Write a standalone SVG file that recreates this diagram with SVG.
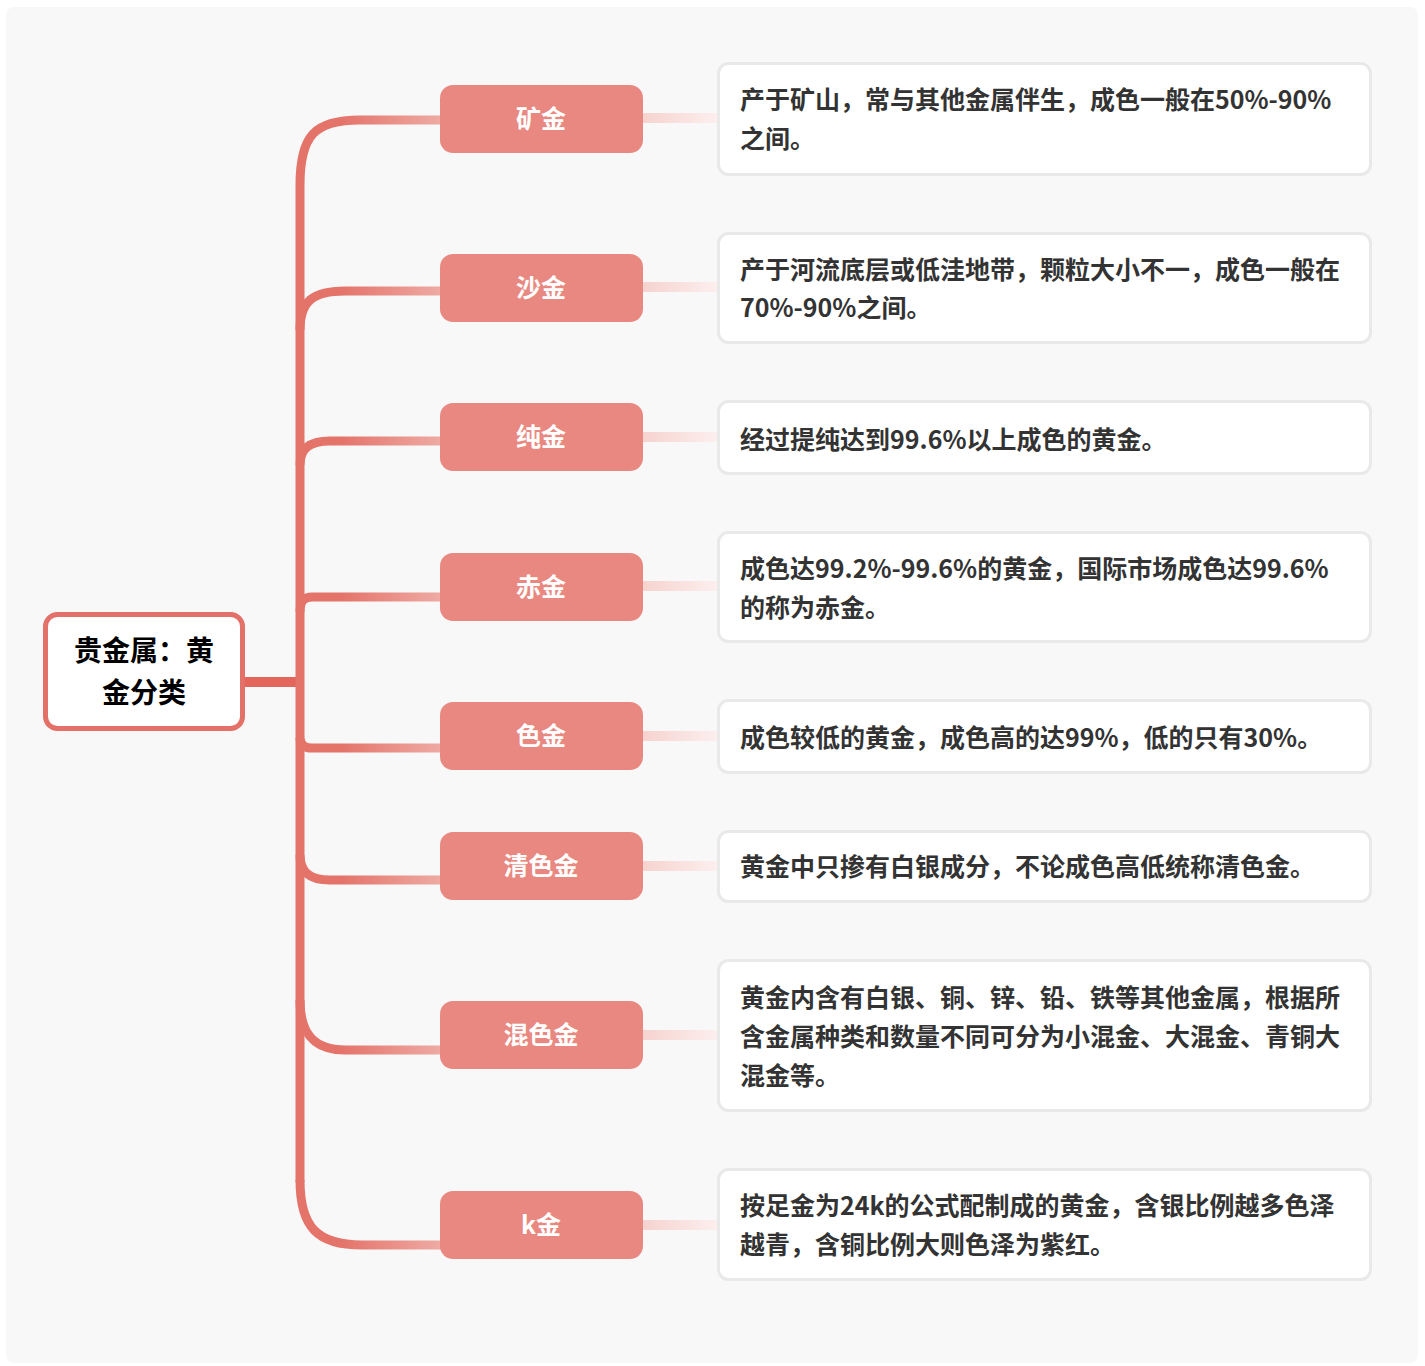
<svg xmlns="http://www.w3.org/2000/svg" width="1425" height="1366" viewBox="0 0 1425 1366">
<defs>
<linearGradient id="gBr" gradientUnits="userSpaceOnUse" x1="340" y1="0" x2="440" y2="0">
<stop offset="0" stop-color="#e4736a"/><stop offset="1" stop-color="#eeaaa3"/>
</linearGradient>
<linearGradient id="gLf" gradientUnits="userSpaceOnUse" x1="643" y1="0" x2="718" y2="0">
<stop offset="0" stop-color="#f6d3cf"/><stop offset="1" stop-color="#fcefee"/>
</linearGradient>
<style>
.br{fill:none;stroke:url(#gBr);stroke-width:9}
.lf{fill:none;stroke:url(#gLf);stroke-width:10}
.b1{fill:#e98880}
.t1{font-family:"Noto Sans CJK SC","Noto Sans",sans-serif;font-weight:bold;font-size:25px;fill:#ffffff;text-anchor:middle}
.d{fill:#ffffff;stroke:#e9e9e9;stroke-width:3}
.td{font-family:"Noto Sans CJK SC","Noto Sans",sans-serif;font-weight:bold;font-size:25px;fill:#333333}
.tr{font-family:"Noto Sans CJK SC","Noto Sans",sans-serif;font-weight:bold;font-size:28px;fill:#000000;text-anchor:middle}
</style>
</defs>
<rect x="6" y="7" width="1412" height="1356" rx="8" fill="#f8f8f8"/>
<g id="connectors">
<path d="M244,682 H300" fill="none" stroke="#e3655c" stroke-width="10"/>
<path d="M300,185 V1182" fill="none" stroke="#e4736a" stroke-width="9"/>
<path class="br" d="M300,185 C300,135 315,120 360,120 H441"/>
<path class="br" d="M300,330 C300,302 312,291 345,291 H441"/>
<path class="br" d="M300,465 C300,448 310,441 330,441 H441"/>
<path class="br" d="M300,612 C300,601 304,597 312,597 H441"/>
<path class="br" d="M300,738 C300,744 304,748 312,748 H441"/>
<path class="br" d="M300,855 C300,872 310,880 330,880 H441"/>
<path class="br" d="M300,1000 C300,1035 315,1050 345,1050 H441"/>
<path class="br" d="M300,1180 C300,1228 318,1245 362,1245 H441"/>
<path class="lf" d="M642,118 H719"/>
<path class="lf" d="M642,287 H719"/>
<path class="lf" d="M642,437 H719"/>
<path class="lf" d="M642,586 H719"/>
<path class="lf" d="M642,736 H719"/>
<path class="lf" d="M642,866 H719"/>
<path class="lf" d="M642,1035 H719"/>
<path class="lf" d="M642,1225 H719"/>
</g>
<g id="root">
<rect x="45.5" y="614.5" width="197" height="114" rx="12" fill="#ffffff" stroke="#e4706a" stroke-width="5"/>
<text class="tr" x="144" y="661">贵金属：黄</text>
<text class="tr" x="144" y="703">金分类</text>
</g>
<g id="n1"><rect class="b1" x="440" y="85" width="203" height="68" rx="13"/><text class="t1" x="541" y="128">矿金</text></g>
<g id="n2"><rect class="b1" x="440" y="254" width="203" height="68" rx="13"/><text class="t1" x="541" y="297">沙金</text></g>
<g id="n3"><rect class="b1" x="440" y="403" width="203" height="68" rx="13"/><text class="t1" x="541" y="446">纯金</text></g>
<g id="n4"><rect class="b1" x="440" y="553" width="203" height="68" rx="13"/><text class="t1" x="541" y="596">赤金</text></g>
<g id="n5"><rect class="b1" x="440" y="702" width="203" height="68" rx="13"/><text class="t1" x="541" y="745">色金</text></g>
<g id="n6"><rect class="b1" x="440" y="832" width="203" height="68" rx="13"/><text class="t1" x="541" y="875">清色金</text></g>
<g id="n7"><rect class="b1" x="440" y="1001" width="203" height="68" rx="13"/><text class="t1" x="541" y="1044">混色金</text></g>
<g id="n8"><rect class="b1" x="440" y="1191" width="203" height="68" rx="13"/><text class="t1" x="541" y="1234">k金</text></g>
<g id="d1"><rect class="d" x="718.5" y="63.5" width="652" height="111" rx="10"/>
<text class="td" x="740" y="109">产于矿山，常与其他金属伴生，成色一般在50%-90%</text>
<text class="td" x="740" y="148">之间。</text></g>
<g id="d2"><rect class="d" x="718.5" y="233.5" width="652" height="109" rx="10"/>
<text class="td" x="740" y="279">产于河流底层或低洼地带，颗粒大小不一，成色一般在</text>
<text class="td" x="740" y="317">70%-90%之间。</text></g>
<g id="d3"><rect class="d" x="718.5" y="401.5" width="652" height="72" rx="10"/>
<text class="td" x="740" y="449">经过提纯达到99.6%以上成色的黄金。</text></g>
<g id="d4"><rect class="d" x="718.5" y="532.5" width="652" height="109" rx="10"/>
<text class="td" x="740" y="578">成色达99.2%-99.6%的黄金，国际市场成色达99.6%</text>
<text class="td" x="740" y="617">的称为赤金。</text></g>
<g id="d5"><rect class="d" x="718.5" y="700.5" width="652" height="72" rx="10"/>
<text class="td" x="740" y="747">成色较低的黄金，成色高的达99%，低的只有30%。</text></g>
<g id="d6"><rect class="d" x="718.5" y="831.5" width="652" height="70" rx="10"/>
<text class="td" x="740" y="876">黄金中只掺有白银成分，不论成色高低统称清色金。</text></g>
<g id="d7"><rect class="d" x="718.5" y="960.5" width="652" height="150" rx="10"/>
<text class="td" x="740" y="1007">黄金内含有白银、铜、锌、铅、铁等其他金属，根据所</text>
<text class="td" x="740" y="1046">含金属种类和数量不同可分为小混金、大混金、青铜大</text>
<text class="td" x="740" y="1085">混金等。</text></g>
<g id="d8"><rect class="d" x="718.5" y="1169.5" width="652" height="110" rx="10"/>
<text class="td" x="740" y="1215">按足金为24k的公式配制成的黄金，含银比例越多色泽</text>
<text class="td" x="740" y="1254">越青，含铜比例大则色泽为紫红。</text></g>
</svg>
